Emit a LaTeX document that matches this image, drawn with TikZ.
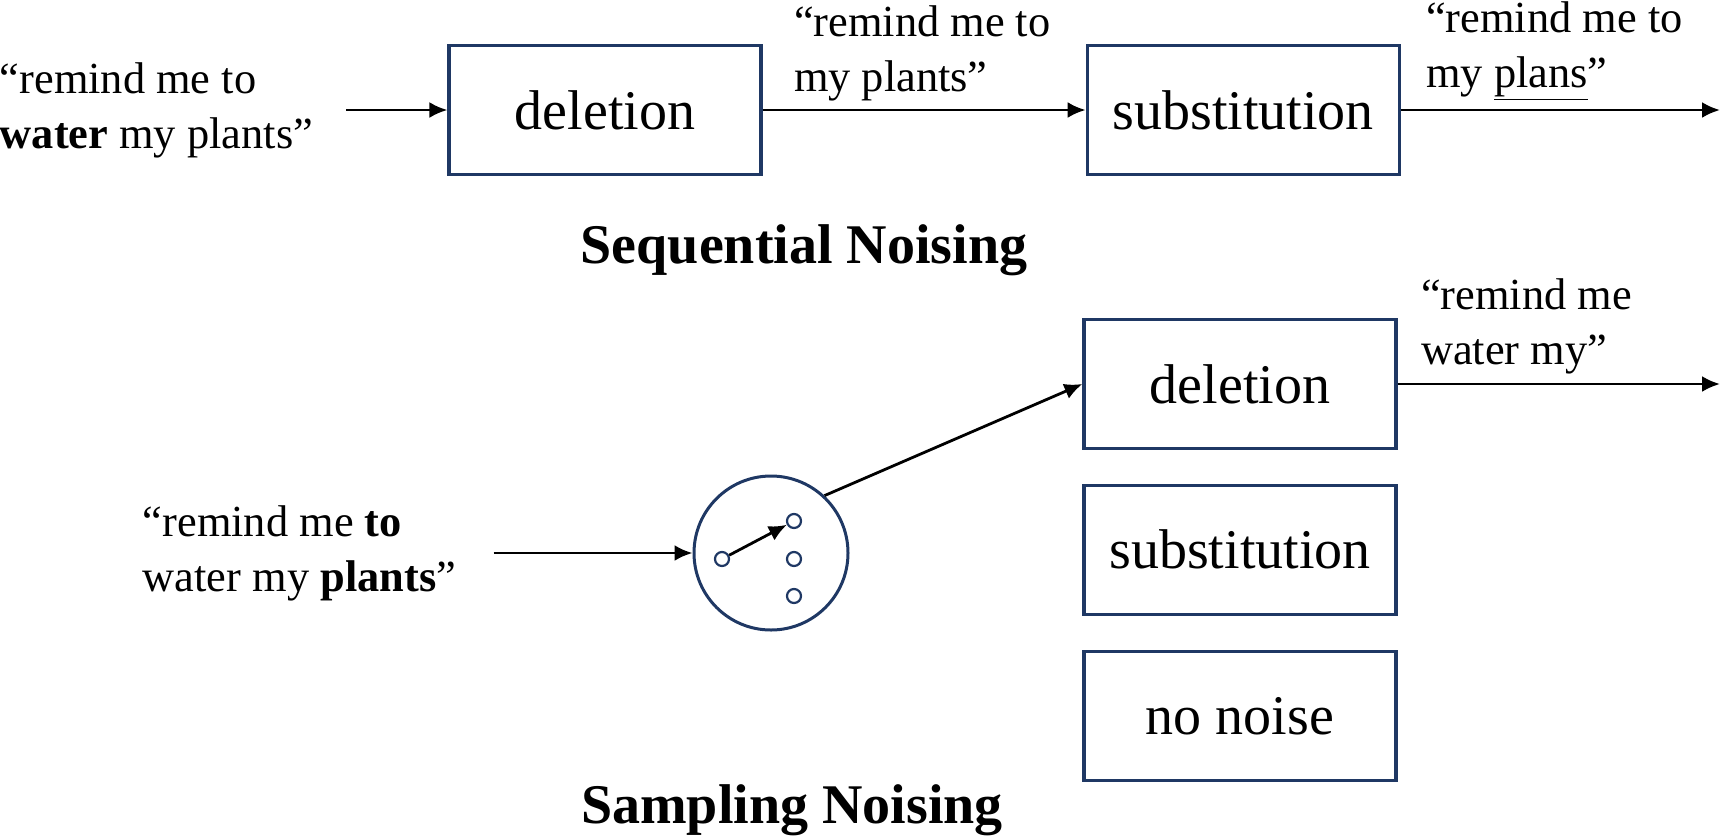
\documentclass[tikz,border=0pt]{standalone}
\usepackage{fontspec}
\setmainfont{Liberation Serif}
\usetikzlibrary{arrows.meta,positioning}
\definecolor{boxblue}{HTML}{1F3864}
\tikzset{
  noisebox/.style={
    rectangle,
    draw=boxblue,
    line width=1.6pt,
    minimum width=156pt,
    minimum height=64.5pt,
    font=\fontsize{28}{32}\selectfont
  },
  phrase/.style={
    inner sep=0pt,
    align=left,
    font=\fontsize{22.2}{27.5}\selectfont
  },
  heading/.style={
    font=\fontsize{28}{32}\selectfont\bfseries
  },
  switch/.style={
    circle,
    draw=boxblue,
    line width=1.5pt,
    minimum size=77pt,
    inner sep=0pt
  },
  contact/.style={
    circle,
    draw=boxblue,
    line width=1.1pt,
    minimum size=7pt,
    inner sep=0pt
  },
  arrow/.style={
    -{Latex[length=9pt,width=8pt]},
    line width=1.4pt,
    draw=black
  }
}

\begin{document}
\begin{tikzpicture}[x=0.5pt,y=-0.5pt]
  \useasboundingbox (0,0) rectangle (1729,836);

  % sequential noising
  \node[noisebox] (del1) at (605,110) {deletion};
  \node[noisebox, right=161.5pt of del1] (sub1) {substitution};
  \node[phrase, left=67pt of del1] (in1) {“remind me to\\\textbf{water} my plants”};
  \node[phrase, above right=4.5pt and 15.5pt of del1.east] (mid1) {“remind me to\\my plants”};
  \node[phrase, above right=4.5pt and 12.5pt of sub1.east] (out1) {“remind me to\\my \underline{plans}”};
  \coordinate (end1) at (1720,110);
  \node[heading] (seq) at (804,250) {Sequential Noising};

  \draw[arrow] ([xshift=16.5pt]in1.east) -- (del1.west);
  \draw[arrow] (del1.east) -- (sub1.west);
  \draw[arrow] (sub1.east) -- (end1);

  % sampling noising
  \node[noisebox] (del2) at (1240,384) {deletion};
  \node[noisebox, below=16.8pt of del2] (sub2) {substitution};
  \node[noisebox, below=17pt of sub2] (none2) {no noise};
  \node[switch] (sw) at (771,553) {};
  \node[contact] (c0) at ([shift={(-49,6)}]sw.center) {};
  \node[contact] (c1) at ([shift={(23,-32)}]sw.center) {};
  \node[contact] (c2) at ([shift={(23,6)}]sw.center) {};
  \node[contact] (c3) at ([shift={(23,43)}]sw.center) {};
  \node[phrase, left=118pt of sw] (in2) {“remind me \textbf{to}\\water my \textbf{plants}”};
  \node[phrase, above right=5pt and 11.5pt of del2.east] (out2) {“remind me\\water my”};
  \coordinate (end2) at (1720,384);
  \node[heading] (samp) at (792,810) {Sampling Noising};

  \draw[arrow] ([xshift=18.5pt]in2.east) -- (sw.west);
  \draw[arrow] (c0) -- (c1);
  \draw[arrow] (sw.47) -- (del2.west);
  \draw[arrow] (del2.east) -- (end2);
\end{tikzpicture}
\end{document}
